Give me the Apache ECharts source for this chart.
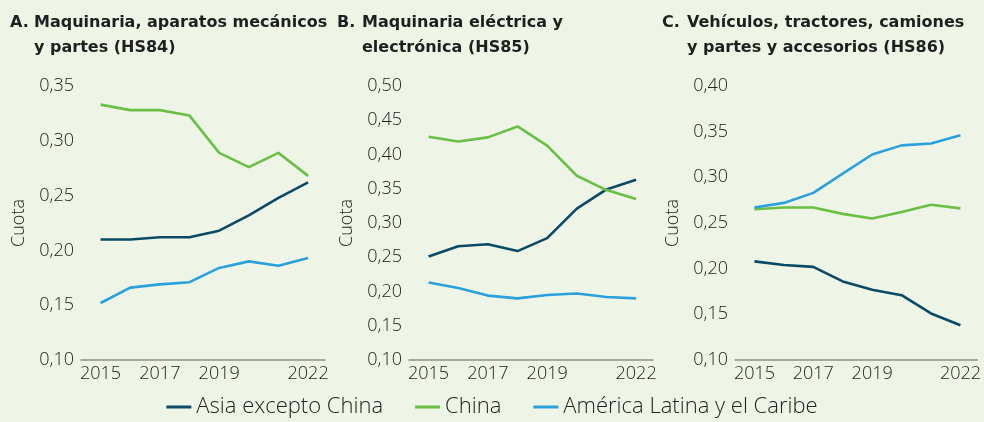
<!DOCTYPE html>
<html>
<head>
<meta charset="utf-8">
<script src="https://cdn.jsdelivr.net/npm/echarts@6/dist/echarts.min.js"></script>
<style>
html,body{margin:0;padding:0;background:#eef5e7;}
#chart{width:984px;height:422px;}
</style>
</head>
<body>
<div id="chart"></div>
<script>
var years = [2015, 2016, 2017, 2018, 2019, 2020, 2021, 2022];
var yearLabels = [2015, 2017, 2019, 2022];
var seriesNames = ['Asia excepto China', 'China', 'América Latina y el Caribe'];

// A. HS84
var asiaA  = [0.210, 0.210, 0.212, 0.212, 0.218, 0.232, 0.248, 0.262];
var chinaA = [0.333, 0.328, 0.328, 0.323, 0.289, 0.276, 0.289, 0.268];
var latamA = [0.152, 0.166, 0.169, 0.171, 0.184, 0.190, 0.186, 0.193];
// B. HS85
var asiaB  = [0.251, 0.266, 0.269, 0.259, 0.278, 0.321, 0.349, 0.363];
var chinaB = [0.426, 0.419, 0.425, 0.441, 0.413, 0.369, 0.348, 0.335];
var latamB = [0.213, 0.205, 0.194, 0.190, 0.195, 0.197, 0.192, 0.190];
// C. HS86
var asiaC  = [0.208, 0.204, 0.202, 0.186, 0.177, 0.171, 0.151, 0.138];
var chinaC = [0.265, 0.267, 0.267, 0.260, 0.255, 0.262, 0.270, 0.266];
var latamC = [0.267, 0.272, 0.283, 0.304, 0.325, 0.335, 0.337, 0.346];

var colors = ['#0b4a66', '#6abf45', '#2aa0dc'];
var txt = '#222222';

var pair = function (arr) {
    return years.map(function (y, i) { return [y, arr[i]]; });
};

var grids = [
    {left: 81, width: 244, top: 86, height: 274},
    {left: 409, width: 244, top: 86, height: 274},
    {left: 735, width: 243, top: 86, height: 274}
];
var yMax = [0.35, 0.50, 0.40];

var xAxes = [], yAxes = [], series = [];
grids.forEach(function (g, k) {
    xAxes.push({
        type: 'value', gridIndex: k, min: 2014.34, max: 2022.57,
        axisLine: {show: true, lineStyle: {color: '#8f8f8f', width: 1.5}},
        axisTick: {show: false},
        splitLine: {show: false},
        axisLabel: {
            customValues: yearLabels, color: txt, fontFamily: 'Open Sans',
            fontWeight: 300, fontSize: 18, margin: 5,
            formatter: function (v) { return String(v); }
        }
    });
    yAxes.push({
        type: 'value', gridIndex: k, min: 0.1, max: yMax[k], interval: 0.05,
        name: 'Cuota', nameLocation: 'middle', nameGap: 53,
        nameTextStyle: {color: txt, fontFamily: 'Open Sans', fontWeight: 300, fontSize: 18},
        axisLine: {show: false}, axisTick: {show: false}, splitLine: {show: false},
        axisLabel: {
            color: txt, fontFamily: 'Open Sans', fontWeight: 300, fontSize: 18, margin: 7,
            formatter: function (v) { return v.toFixed(2).replace('.', ','); }
        }
    });
});

var data = [[asiaA, chinaA, latamA], [asiaB, chinaB, latamB], [asiaC, chinaC, latamC]];
data.forEach(function (set, k) {
    set.forEach(function (arr, i) {
        series.push({
            name: seriesNames[i], type: 'line', xAxisIndex: k, yAxisIndex: k,
            data: pair(arr), symbol: 'none', smooth: false,
            lineStyle: {color: colors[i], width: 2.6},
            itemStyle: {color: colors[i]}
        });
    });
});

var titleStyle = {color: '#1f1f1f', fontFamily: 'DejaVu Sans', fontWeight: 'bold', fontSize: 16, lineHeight: 25};
var titles = [
    {text: 'A.', left: 10, top: 10, textStyle: titleStyle},
    {text: 'Maquinaria, aparatos mecánicos\ny partes (HS84)', left: 34, top: 10, textStyle: titleStyle},
    {text: 'B.', left: 337, top: 10, textStyle: titleStyle},
    {text: 'Maquinaria eléctrica y\nelectrónica (HS85)', left: 362, top: 10, textStyle: titleStyle},
    {text: 'C.', left: 662, top: 10, textStyle: titleStyle},
    {text: 'Vehículos, tractores, camiones\ny partes y accesorios (HS86)', left: 687, top: 10, textStyle: titleStyle}
];
titles.forEach(function (t) { t.padding = 0; });

var chart = echarts.init(document.getElementById('chart'));
chart.setOption({
    backgroundColor: '#eef5e7',
    animation: false,
    title: titles,
    color: colors,
    legend: {
        data: seriesNames, top: 396, left: 'center', padding: 0,
        icon: 'rect', itemWidth: 25, itemHeight: 3, itemGap: 32,
        textStyle: {color: txt, fontFamily: 'Open Sans', fontWeight: 300, fontSize: 22}
    },
    grid: grids,
    xAxis: xAxes,
    yAxis: yAxes,
    series: series
});
</script>
</body>
</html>
